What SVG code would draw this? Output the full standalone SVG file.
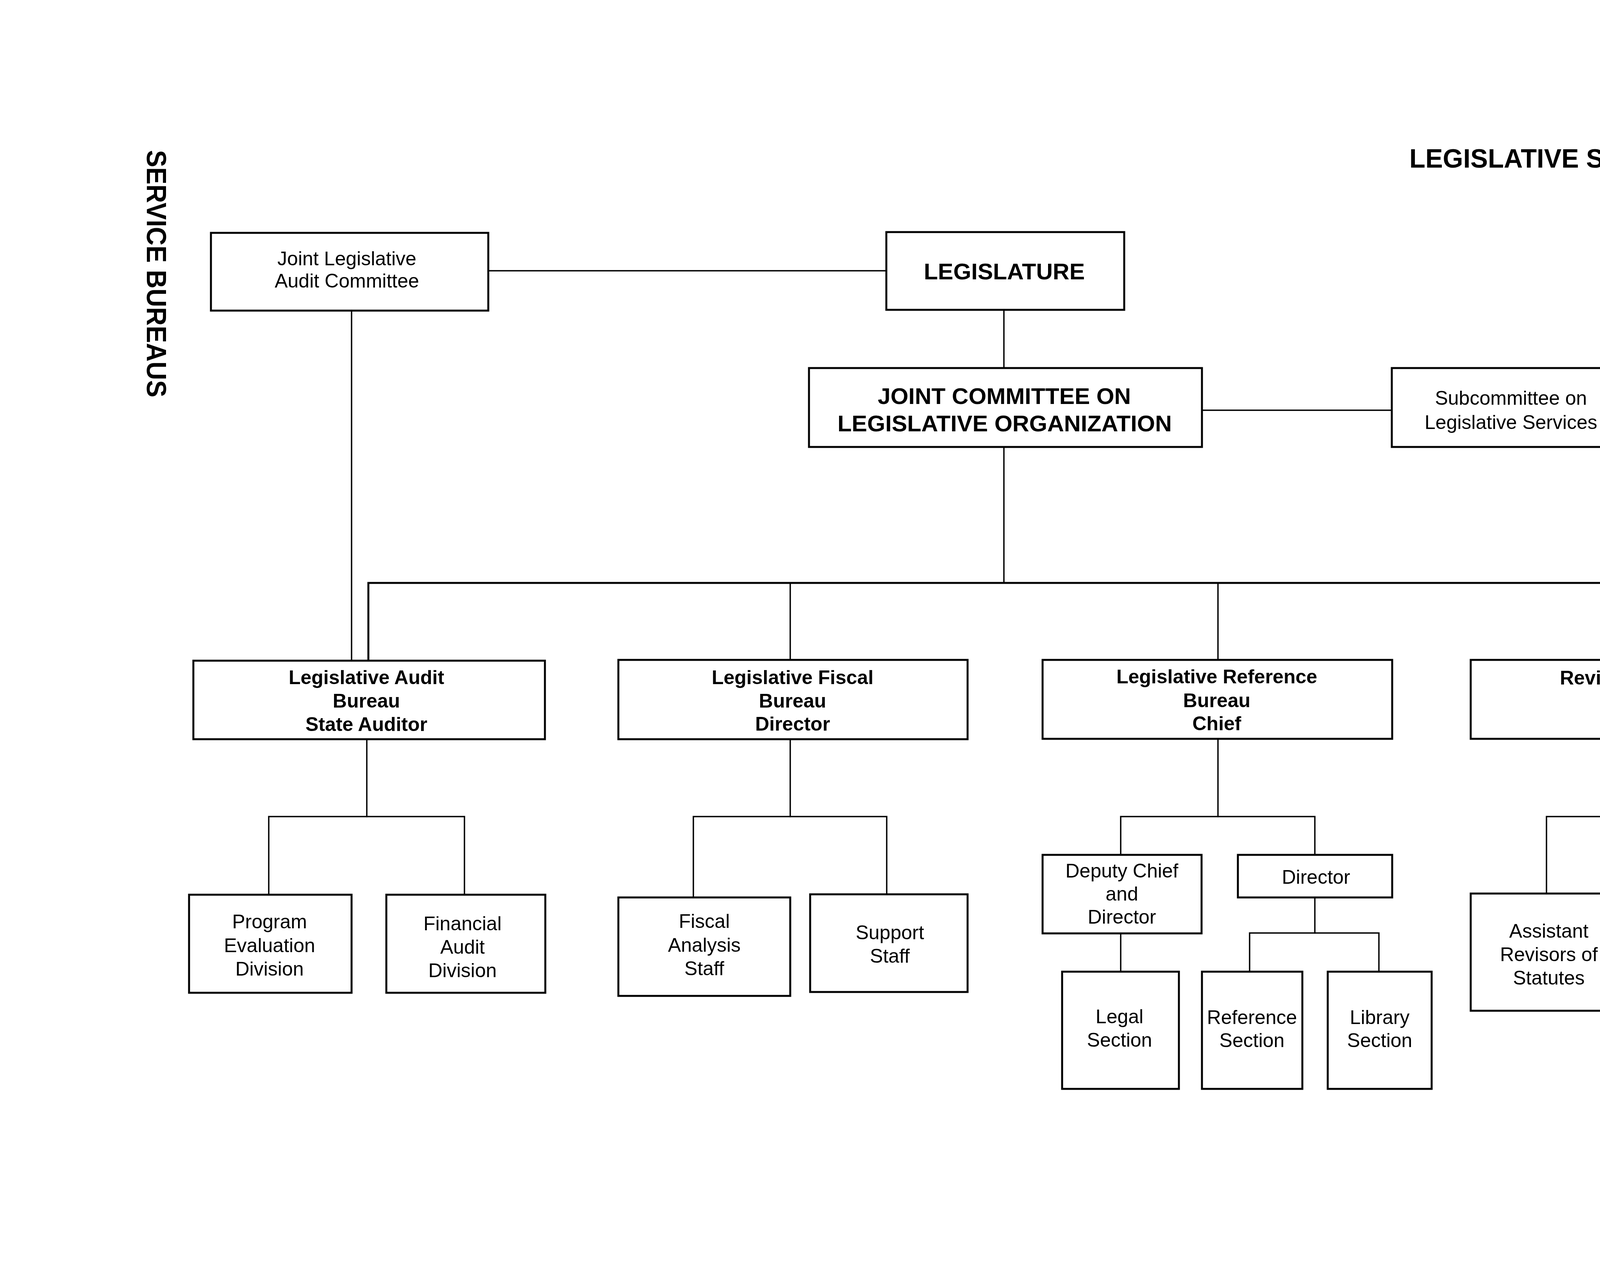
<svg xmlns="http://www.w3.org/2000/svg" width="5220" height="3248" viewBox="0 0 5220 3248">
<style>
.box{fill:#fff;stroke:#000;stroke-width:5}
.ln{fill:none;stroke:#000;stroke-width:3.5;stroke-linecap:square}
.bus{fill:none;stroke:#000;stroke-width:5;stroke-linecap:square}
.t{font-family:"Liberation Sans",Arial,sans-serif;font-size:50px;fill:#000;text-anchor:middle}
.b{font-family:"Liberation Sans",Arial,sans-serif;font-size:50px;font-weight:bold;fill:#000;text-anchor:middle}
.big{font-family:"Liberation Sans",Arial,sans-serif;font-size:58px;font-weight:bold;fill:#000;text-anchor:middle}
.hd{font-family:"Liberation Sans",Arial,sans-serif;font-weight:bold;fill:#000}
.sf{font-family:"Liberation Serif","Times New Roman",serif;fill:#000}
</style>
<rect width="5220" height="3248" fill="#fff"/>

<g id="page-text">
<text class="hd" font-size="68" x="3608" y="429" textLength="1095" lengthAdjust="spacingAndGlyphs">LEGISLATIVE SERVICE BUREAUS</text>
<text class="hd" font-size="70" transform="translate(376,384) rotate(90)" x="0" y="0" textLength="633" lengthAdjust="spacingAndGlyphs">SERVICE BUREAUS</text>
<text class="sf" font-size="88" font-weight="bold" transform="translate(4806,375) rotate(90)" x="0" y="0" textLength="120" lengthAdjust="spacingAndGlyphs">286</text>
<text class="sf" font-size="90" transform="translate(4806,1167) rotate(90)" x="0" y="0" textLength="1192" lengthAdjust="spacingAndGlyphs">W<tspan font-size="68">ISCONSIN </tspan>B<tspan font-size="68">LUE </tspan>B<tspan font-size="68">OOK </tspan>1991-1992</text>
</g>

<g id="connectors">
<path class="ln" d="M1250,693 H2269"/>
<path class="ln" d="M2570,793 V942"/>
<path class="ln" d="M3077,1050 H3563"/>
<path class="ln" d="M900,795 V1691"/>
<path class="ln" d="M2570,1144 V1492"/>
<path class="bus" d="M943,1691 V1492 H4208 V1689"/>
<path class="ln" d="M2023,1492 V1689"/>
<path class="ln" d="M3118,1492 V1689"/>
<path class="ln" d="M939,1892 V2090"/>
<path class="ln" d="M688,2290 V2090 H1189 V2290"/>
<path class="ln" d="M2023,1892 V2090"/>
<path class="ln" d="M1775,2297 V2090 H2270 V2289"/>
<path class="ln" d="M3118,1891 V2090"/>
<path class="ln" d="M2869,2188 V2090 H3366 V2188"/>
<path class="ln" d="M2869,2389 V2487"/>
<path class="ln" d="M3366,2297 V2388"/>
<path class="ln" d="M3199,2487 V2388 H3530 V2487"/>
<path class="ln" d="M4208,1891 V2090"/>
<path class="ln" d="M3959,2287 V2090 H4459 V2287"/>
</g>

<g id="jlac">
<rect class="box" x="540" y="596" width="710" height="199"/>
<text class="t" x="888" y="679">Joint Legislative</text>
<text class="t" x="888" y="736">Audit Committee</text>
</g>

<g id="legislature">
<rect class="box" x="2269" y="594" width="609" height="199"/>
<text class="big" x="2571" y="715" textLength="412" lengthAdjust="spacingAndGlyphs">LEGISLATURE</text>
</g>

<g id="jclo">
<rect class="box" x="2071" y="942" width="1006" height="202"/>
<text class="big" x="2571" y="1034" textLength="648" lengthAdjust="spacingAndGlyphs">JOINT COMMITTEE ON</text>
<text class="big" x="2572" y="1104" textLength="856" lengthAdjust="spacingAndGlyphs">LEGISLATIVE ORGANIZATION</text>
</g>

<g id="subcommittee">
<rect class="box" x="3563" y="942" width="614" height="202"/>
<text class="t" x="3868" y="1036">Subcommittee on</text>
<text class="t" x="3868" y="1098">Legislative Services</text>
</g>

<g id="lab">
<rect class="box" x="495" y="1691" width="900" height="201"/>
<text class="b" x="938" y="1751">Legislative Audit</text>
<text class="b" x="938" y="1811">Bureau</text>
<text class="b" x="938" y="1871">State Auditor</text>
</g>

<g id="lfb">
<rect class="box" x="1583" y="1689" width="894" height="203"/>
<text class="b" x="2029" y="1751">Legislative Fiscal</text>
<text class="b" x="2029" y="1811">Bureau</text>
<text class="b" x="2029" y="1870">Director</text>
</g>

<g id="lrb">
<rect class="box" x="2669" y="1689" width="895" height="202"/>
<text class="b" x="3115" y="1749">Legislative Reference</text>
<text class="b" x="3115" y="1810">Bureau</text>
<text class="b" x="3115" y="1869">Chief</text>
</g>

<g id="rsb">
<rect class="box" x="3765" y="1689" width="903" height="202"/>
<text class="b" x="4221" y="1752">Revisor of Statutes</text>
<text class="b" x="4221" y="1812">Bureau</text>
<text class="b" x="4221" y="1872">Revisor</text>
</g>

<g id="ped">
<rect class="box" x="484" y="2290" width="416" height="251"/>
<text class="t" x="690" y="2376">Program</text>
<text class="t" x="690" y="2437">Evaluation</text>
<text class="t" x="690" y="2497">Division</text>
</g>

<g id="fad">
<rect class="box" x="989" y="2290" width="407" height="251"/>
<text class="t" x="1184" y="2381">Financial</text>
<text class="t" x="1184" y="2441">Audit</text>
<text class="t" x="1184" y="2501">Division</text>
</g>

<g id="fas">
<rect class="box" x="1583" y="2297" width="440" height="252"/>
<text class="t" x="1803" y="2375">Fiscal</text>
<text class="t" x="1803" y="2436">Analysis</text>
<text class="t" x="1803" y="2496">Staff</text>
</g>

<g id="support">
<rect class="box" x="2074" y="2289" width="403" height="250"/>
<text class="t" x="2278" y="2404">Support</text>
<text class="t" x="2278" y="2464">Staff</text>
</g>

<g id="deputy">
<rect class="box" x="2669" y="2188" width="407" height="201"/>
<text class="t" x="2872" y="2246">Deputy Chief</text>
<text class="t" x="2872" y="2305">and</text>
<text class="t" x="2872" y="2364">Director</text>
</g>

<g id="director">
<rect class="box" x="3169" y="2188" width="395" height="109"/>
<text class="t" x="3369" y="2262">Director</text>
</g>

<g id="legal">
<rect class="box" x="2719" y="2487" width="299" height="300"/>
<text class="t" x="2866" y="2619">Legal</text>
<text class="t" x="2866" y="2679">Section</text>
</g>

<g id="reference">
<rect class="box" x="3077" y="2487" width="257" height="300"/>
<text class="t" x="3205" y="2621">Reference</text>
<text class="t" x="3205" y="2680">Section</text>
</g>

<g id="library">
<rect class="box" x="3399" y="2487" width="266" height="300"/>
<text class="t" x="3532" y="2621">Library</text>
<text class="t" x="3532" y="2680">Section</text>
</g>

<g id="ars">
<rect class="box" x="3765" y="2287" width="402" height="300"/>
<text class="t" x="3965" y="2400">Assistant</text>
<text class="t" x="3965" y="2460">Revisors of</text>
<text class="t" x="3965" y="2520">Statutes</text>
</g>

<g id="arac">
<rect class="box" x="4262" y="2287" width="406" height="300"/>
<text class="t" x="4465" y="2366">Assistant</text>
<text class="t" x="4465" y="2426">Revisor of</text>
<text class="t" x="4465" y="2486">Administrative</text>
<text class="t" x="4465" y="2545">Code</text>
</g>
</svg>
